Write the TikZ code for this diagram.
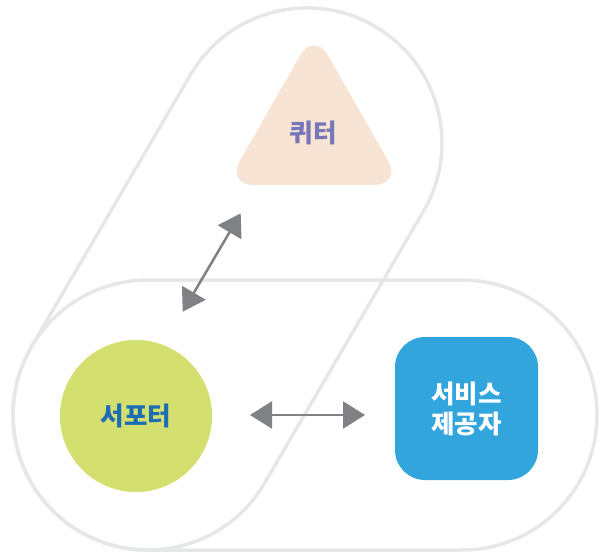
\documentclass[tikz,border=0pt]{standalone}
\usepackage{fontspec}
\newfontfamily\kr{Noto Sans CJK KR}
\usetikzlibrary{arrows.meta}
\definecolor{capsule}{HTML}{E6E7E8}
\definecolor{trifill}{HTML}{F7E4D4}
\definecolor{tritext}{HTML}{7676B8}
\definecolor{circfill}{HTML}{D3DF6E}
\definecolor{circtext}{HTML}{1D6DB5}
\definecolor{boxfill}{HTML}{33A5DD}
\definecolor{arrowgray}{HTML}{808184}
\tikzset{
  capsuleline/.style={draw=capsule, line width=3.5pt},
  label/.style={font=\kr\bfseries\fontsize{25.5}{30}\selectfont, align=center},
  arr/.style={draw=arrowgray, line width=2.5pt,
    {Triangle[length=22pt,width=27pt]}-{Triangle[length=22pt,width=27pt]}}
}
\begin{document}
\begin{tikzpicture}[x=1pt,y=1pt]
\useasboundingbox (0,0) rectangle (599,-553);
% horizontal capsule
\draw[capsuleline] (148,-280) -- (462,-280) arc[start angle=90, end angle=-90, radius=135]
  -- (148,-550) arc[start angle=270, end angle=90, radius=135] -- cycle;
% diagonal capsule
\draw[capsuleline] (31.44,-346.85) -- (190.44,-74.85) arc[start angle=149.69, end angle=-30.31, radius=135]
  -- (264.56,-483.15) arc[start angle=-30.31, end angle=-210.31, radius=135] -- cycle;
% triangle
\fill[trifill, rounded corners=28pt] (314,-31) -- (402,-185) -- (226,-185) -- cycle;
\node[label, text=tritext] (tri) at (313,-133) {퀴터};
% circle
\node[circle, fill=circfill, minimum size=152pt, inner sep=0pt, label, text=circtext] (sup) at (136,-416) {서포터};
% box
\node[rounded corners=30pt, fill=boxfill, minimum width=143pt, minimum height=143pt, inner sep=0pt, label, text=white] (svc) at (466.5,-408.5) {서비스\\제공자};
% arrows
\coordinate (h1) at (250,-415);
\coordinate (h2) at (365,-415);
\draw[arr] (h1) -- (h2);
\coordinate (d1) at (182.7,-311.7);
\coordinate (d2) at (240.7,-213.3);
\draw[arr] (d1) -- (d2);
\end{tikzpicture}
\end{document}
